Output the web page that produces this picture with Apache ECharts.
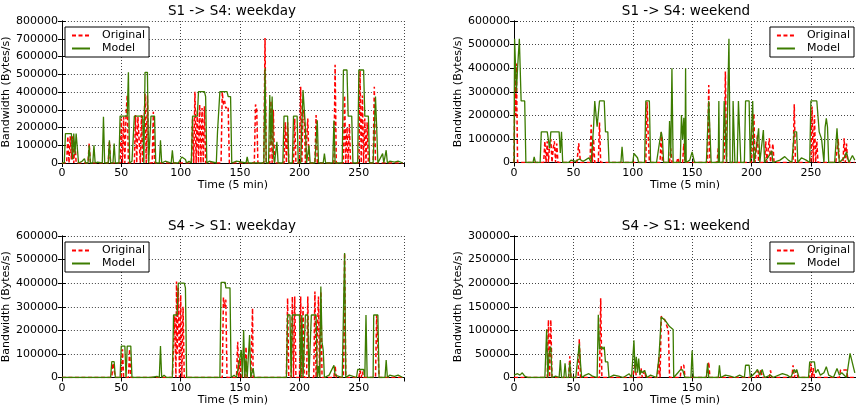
<!DOCTYPE html>
<html>
<head>
<meta charset="utf-8">
<script src="https://cdn.jsdelivr.net/npm/echarts@6/dist/echarts.min.js"></script>
<style>html,body{margin:0;padding:0;background:#fff}#c{width:856px;height:410px}</style>
</head>
<body>
<div id="c"></div>
<script>
// ---- data: [time (5 min), bandwidth (Bytes/s)] ----
const titles = ['S1 -> S4: weekday', 'S1 -> S4: weekend', 'S4 -> S1: weekday', 'S4 -> S1: weekend'];
const yMaxes = [800000, 600000, 600000, 300000];
const yIntervals = [100000, 100000, 100000, 50000];
const xTicks = [0, 50, 100, 150, 200, 250];

const s1s4WeekdayOriginal = [[0,0],[4,0],[5,150000],[6,0],[7,150000],[8,20000],[9,150000],[10,0],[11,120000],[12,0],[22,0],[23,110000],[24,0],[39,0],[40,120000],[41,0],[49,0],[50,250000],[51,0],[52,260000],[53,0],[54,270000],[55,383000],[56,0],[61,0],[62,270000],[63,0],[64,260000],[65,270000],[66,0],[67,270000],[68,0],[69,0],[70,390000],[71,0],[72,380000],[73,0],[76,0],[77,289000],[78,0],[109,0],[110,250000],[111,0],[112,402000],[113,0],[114,300000],[115,0],[116,330000],[117,0],[118,310000],[119,0],[120,320000],[121,0],[134,0],[135,400000],[136,330000],[137,350000],[138,307000],[139,320000],[140,307000],[141,0],[162,0],[163,330000],[164,300000],[165,0],[170,0],[171,704000],[172,0],[175,0],[176,350000],[177,0],[178,300000],[179,0],[187,0],[188,230000],[189,0],[190,230000],[191,0],[195,0],[196,250000],[197,0],[200,0],[201,430000],[202,0],[203,300000],[204,280000],[205,0],[207,250000],[208,0],[213,0],[214,270000],[215,0],[229,0],[230,553000],[231,0],[237,0],[238,380000],[239,0],[240,200000],[241,0],[242,220000],[243,0],[250,0],[251,520000],[252,0],[253,380000],[254,0],[255,250000],[256,0],[257,230000],[258,0],[262,0],[263,430000],[264,0],[287,0]];
const s1s4WeekdayModel = [[0,0],[2,0],[3,166000],[8,166000],[9,20000],[10,166000],[11,50000],[12,166000],[14,0],[17,10000],[19,25000],[20,0],[22,0],[23,100000],[24,0],[26,0],[27,100000],[28,0],[30,5000],[34,0],[35,260000],[36,0],[39,0],[40,128000],[41,0],[43,0],[44,110000],[45,0],[48,0],[49,264000],[55,264000],[56,511000],[57,0],[59,10000],[60,0],[61,264000],[68,264000],[69,0],[70,511000],[72,511000],[73,0],[75,264000],[78,264000],[79,0],[82,0],[83,128000],[84,0],[87,10000],[88,0],[92,0],[93,72000],[94,0],[98,0],[101,34000],[104,20000],[105,0],[107,10000],[108,0],[109,0],[110,264000],[114,264000],[115,402000],[120,402000],[121,374000],[122,0],[124,10000],[125,0],[130,0],[131,175000],[133,402000],[139,402000],[140,374000],[142,374000],[143,0],[147,10000],[148,0],[155,0],[156,34000],[157,0],[170,0],[171,534000],[172,0],[174,0],[175,383000],[176,100000],[177,374000],[178,50000],[179,0],[181,120000],[182,0],[186,0],[187,264000],[190,264000],[191,0],[194,0],[195,264000],[198,264000],[199,0],[201,0],[203,411000],[205,200000],[206,0],[208,100000],[209,0],[213,0],[215,241000],[216,0],[220,0],[221,53000],[222,0],[228,0],[229,240000],[230,0],[236,0],[237,524000],[240,524000],[241,264000],[244,264000],[245,0],[249,0],[250,524000],[254,524000],[255,264000],[258,264000],[259,0],[262,0],[264,374000],[265,200000],[266,0],[270,53000],[271,0],[273,72000],[274,0],[276,10000],[280,5000],[283,10000],[287,0]];

const s1s4WeekendOriginal = [[0,0],[1,420000],[1.5,200000],[2,420000],[3,0],[25,0],[26,90000],[27,0],[28,90000],[29,0],[30,80000],[31,100000],[32,0],[33,60000],[34,90000],[35,0],[36,80000],[37,0],[53,0],[54.5,81000],[56,0],[64,0],[65,160000],[66,0],[67,100000],[68,0],[71,0],[72,170000],[73,0],[111,0],[112,258000],[113,120000],[114,0],[123,0],[124,128000],[125,0],[131,0],[132,60000],[133,0],[137,0],[138,20000],[139,0],[142,0],[143,80000],[144,0],[163,0],[164,329000],[165,0],[171,0],[172,60000],[173,0],[177,0],[178,386000],[179,0],[200,0],[202,208000],[203,0],[205,116000],[206,0],[211,0],[212,90000],[213,0],[215,103000],[216,0],[218,80000],[219,0],[235,0],[236,247000],[237,0],[250,0],[251,237000],[252,0],[253,201000],[254,0],[255,90000],[256,0],[271,0],[273,100000],[274,0],[277,0],[278,103000],[279,0],[280,80000],[281,0],[287,0]];
const s1s4WeekendModel = [[0,0],[0.5,525000],[2,300000],[3,400000],[4.5,525000],[6,261000],[9,261000],[10,0],[16,0],[17,24000],[18,0],[22,0],[23,130000],[28,130000],[30,60000],[31,130000],[38,130000],[39,40000],[40,130000],[41,0],[46,0],[48,10000],[52,5000],[55,15000],[58,5000],[60,10000],[63,20000],[65,0],[67,150000],[68,261000],[70,152000],[72,261000],[76,261000],[77,130000],[79,130000],[80,0],[90,0],[91,67000],[92,0],[100,0],[101,38000],[104,20000],[105,0],[110,0],[111,261000],[114,261000],[115,0],[120,0],[123,100000],[124,130000],[125,100000],[126,0],[130,0],[131,176000],[132,20000],[133,400000],[134,0],[140,0],[141,201000],[142,100000],[143,190000],[144,0],[144.5,400000],[145,0],[148,10000],[150,45000],[152,0],[162,0],[164,261000],[165,261000],[166,0],[172,0],[172.5,261000],[173,0],[176,0],[177,261000],[178,261000],[179,0],[180,0],[181,525000],[182,0],[184,0],[184.5,261000],[185,261000],[186,0],[188,0],[189,261000],[190,261000],[191,0],[194,0],[195,261000],[198,261000],[199,0],[200,0],[201,261000],[202,0],[204,60000],[206,145000],[207,0],[210,138000],[211,0],[215,30000],[217,50000],[218,0],[224,10000],[228,25000],[231,10000],[234,0],[236,130000],[238,130000],[239,0],[242,20000],[246,10000],[249,0],[250,261000],[255,261000],[257,130000],[259,100000],[261,0],[262,150000],[263,187000],[264,150000],[265,0],[270,0],[272,145000],[273,60000],[274,0],[278,20000],[280,45000],[282,0],[285,30000],[287,10000]];

const s4s1WeekdayOriginal = [[0,0],[42,0],[43,60000],[44,60000],[45,0],[50,0],[51,120000],[52,0],[56,0],[57,120000],[58,0],[93,0],[95,260000],[96,0],[96.5,407000],[97,100000],[98,380000],[99,0],[100,350000],[101,0],[102,300000],[103,0],[135,0],[136,340000],[137,300000],[138,330000],[139,0],[147,0],[148,152000],[149,0],[150,80000],[151,0],[154,0],[155,130000],[156,0],[159,0],[160.5,294000],[161,0],[189,0],[190,336000],[191,0],[193,0],[194,343000],[195,0],[196,343000],[197,0],[200,0],[201,343000],[202,0],[203,300000],[204,0],[206,0],[207,343000],[208,0],[212,0],[213,365000],[214,0],[216,343000],[217,0],[218,365000],[219,0],[229,0],[230,50000],[231,0],[237,0],[238,528000],[239,0],[250,0],[251,30000],[252,0],[253,25000],[254,0],[264,0],[265,265000],[266,265000],[267,0],[287,0]];
const s4s1WeekdayModel = [[0,0],[27,0],[28,5000],[29,0],[41,0],[42,67000],[44,67000],[45,0],[49,0],[50,133000],[53,133000],[54,0],[55,133000],[58,133000],[59,0],[75,0],[80,5000],[82,0],[83,133000],[84,0],[86,10000],[88,0],[93,0],[94,265000],[97,265000],[98,400000],[103,400000],[104,380000],[105,0],[133,0],[134,403000],[137.5,403000],[138,380000],[141.5,380000],[142.5,0],[145,10000],[147,0],[151,116000],[152,0],[153,201000],[154,0],[155,80000],[156,0],[158,180000],[159,0],[161,40000],[162,0],[189,0],[190,265000],[192,265000],[193,0],[194,265000],[200,265000],[201,0],[202,265000],[203,0],[205,265000],[207,265000],[208,0],[210,265000],[214,265000],[215,0],[216,50000],[217,0],[218,386000],[219,150000],[220,116000],[221,0],[225,10000],[229,52000],[230,10000],[236,0],[238,528000],[239,0],[242,10000],[248,0],[249,34000],[254,34000],[255,0],[256,265000],[257,0],[262,0],[262.5,265000],[266,265000],[267,0],[272,0],[273,74000],[274,0],[276,10000],[280,5000],[283,10000],[287,0]];

const s4s1WeekendOriginal = [[0,0],[28,0],[29,122000],[30,0],[31,122000],[32,0],[46,0],[47,45000],[48,0],[54,0],[55,81000],[56,0],[72,0],[73,168000],[74,0],[100,0],[102,30000],[103,0],[106,0],[107,20000],[108,0],[110,15000],[111,0],[121,0],[122,45000],[123,0],[124,130000],[127,122000],[130,100000],[131,0],[140,0],[141,26000],[143,26000],[144,0],[162,0],[164,33000],[165,0],[204,0],[205,15000],[206,0],[208,17000],[209,0],[215,0],[216,15000],[217,0],[234,0],[235,26000],[236,0],[238,15000],[239,0],[249,0],[250,30000],[251,0],[252,20000],[253,0],[274,0],[275,16000],[280,16000],[281,0],[287,0]];
const s4s1WeekendModel = [[0,5000],[3,8000],[5,5000],[7,10000],[9,3000],[12,0],[26,0],[27.5,102000],[28.5,0],[29.5,50000],[31,65000],[32,0],[35,3000],[38,0],[39,37000],[40,0],[42,0],[43,30000],[44,0],[46,0],[47,33000],[48,0],[52,0],[55,72000],[56,30000],[57,0],[60,5000],[63,8000],[66,3000],[70,0],[71,133000],[72,60000],[73,60000],[74,65000],[75,60000],[76,65000],[77,33000],[79,33000],[80,0],[84,5000],[88,3000],[92,0],[97,8000],[99,0],[100,0],[101,79000],[102,10000],[103,44000],[104,10000],[105,40000],[106,5000],[107,15000],[108,10000],[110,15000],[112,0],[115,5000],[120,0],[122,40000],[124,128000],[127,122000],[131,108000],[134,102000],[134.5,0],[138,10000],[140,16000],[142,16000],[144,0],[149,0],[150,57000],[151,0],[162,0],[163,30000],[164,0],[172,0],[173,26000],[174,0],[178,5000],[182,3000],[186,0],[190,5000],[194,0],[195,26000],[198,26000],[199,0],[203,10000],[205,17000],[207,5000],[209,17000],[211,0],[216,5000],[218,0],[226,8000],[230,5000],[233,0],[236,17000],[237,10000],[238,17000],[240,0],[248,0],[249,33000],[253,33000],[254,10000],[256,17000],[258,5000],[261,10000],[263,23000],[265,5000],[269,0],[272,19000],[274,5000],[276,10000],[280,0],[283,51000],[287,10000]];

const originals = [s1s4WeekdayOriginal, s1s4WeekendOriginal, s4s1WeekdayOriginal, s4s1WeekendOriginal];
const models = [s1s4WeekdayModel, s1s4WeekendModel, s4s1WeekdayModel, s4s1WeekendModel];

// ---- layout ----
const FONT = 'DejaVu Sans';
const boxes = [
  {left: 60, top: 21, width: 344, height: 142},
  {left: 514, top: 21, width: 344, height: 141.5},
  {left: 60, top: 236, width: 344, height: 141.5},
  {left: 514, top: 236, width: 344, height: 141.5}
];
const XMAX = 288;
const RED = '#ff0000', GREEN = '#3c7c00';

const grid = [], xAxis = [], yAxis = [], series = [], title = [], legend = [];
boxes.forEach((b, i) => {
  grid.push({left: b.left, top: b.top, width: b.width, height: b.height, show: false});
  const axLine = {show: true, lineStyle: {color: '#000', width: 1}};
  const tick = {show: true, inside: true, length: 4, lineStyle: {color: '#000'}};
  xAxis.push({
    gridIndex: i, type: 'value', position: 'bottom', min: 0, max: XMAX, interval: 50,
    axisLine: axLine, axisTick: tick,
    axisLabel: {color: '#000', fontFamily: FONT, fontSize: 11, margin: 5, showMaxLabel: false,
      formatter: v => xTicks.indexOf(v) >= 0 ? String(v) : ''},
    splitLine: {show: true, lineStyle: {color: '#444', width: 1, type: [1, 2]}},
    name: 'Time (5 min)', nameLocation: 'middle', nameGap: 14,
    nameTextStyle: {color: '#000', fontFamily: FONT, fontSize: 11}
  });
  xAxis.push({
    gridIndex: i, type: 'value', position: 'top', min: 0, max: XMAX, interval: 50,
    axisLine: axLine, axisTick: tick, axisLabel: {show: false}, splitLine: {show: false}
  });
  yAxis.push({
    gridIndex: i, type: 'value', position: 'left', min: 0, max: yMaxes[i], interval: yIntervals[i],
    axisLine: axLine, axisTick: tick,
    axisLabel: {color: '#000', fontFamily: FONT, fontSize: 11, margin: 4, formatter: v => String(v)},
    splitLine: {show: true, lineStyle: {color: '#444', width: 1, type: [1, 2]}},
    name: 'Bandwidth (Bytes/s)', nameLocation: 'middle', nameGap: 40,
    nameTextStyle: {color: '#000', fontFamily: FONT, fontSize: 11}
  });
  yAxis.push({
    gridIndex: i, type: 'value', position: 'right', min: 0, max: yMaxes[i], interval: yIntervals[i],
    axisLine: axLine, axisTick: tick, axisLabel: {show: false}, splitLine: {show: false}
  });
  series.push({
    name: 'Original', type: 'line', xAxisIndex: 2 * i, yAxisIndex: 2 * i, data: originals[i],
    symbol: 'none', showSymbol: false, animation: false, z: 2,
    lineStyle: {color: RED, width: 1.5, type: [4, 2.5]}, itemStyle: {color: RED}
  });
  series.push({
    name: 'Model', type: 'line', xAxisIndex: 2 * i, yAxisIndex: 2 * i, data: models[i],
    symbol: 'none', showSymbol: false, animation: false, z: 3,
    lineStyle: {color: GREEN, width: 1.3}, itemStyle: {color: GREEN}
  });
  title.push({
    text: titles[i], left: b.left + b.width / 2, top: b.top - 17, textAlign: 'center',
    textStyle: {fontFamily: FONT, fontSize: 13.5, fontWeight: 'normal', color: '#000'}, padding: 0
  });
  const lg = {
    orient: 'vertical', top: b.top + 6, data: ['Original', 'Model'], selectedMode: false,
    padding: [3, 4, 3, 6], itemGap: 2, itemWidth: 18, itemHeight: 12,
    borderColor: '#000', borderWidth: 1, backgroundColor: '#fff',
    itemStyle: {color: 'rgba(0,0,0,0)', borderWidth: 0},
    textStyle: {fontFamily: FONT, fontSize: 11, color: '#000', padding: [0, 0, 0, 7]}
  };
  if (i % 2 === 0) lg.left = b.left + 5; else lg.right = 2;
  legend.push(lg);
});

const chart = echarts.init(document.getElementById('c'), null, {renderer: 'canvas'});
chart.setOption({backgroundColor: '#fff', animation: false, title, legend, grid, xAxis, yAxis, series});
</script>
</body>
</html>
